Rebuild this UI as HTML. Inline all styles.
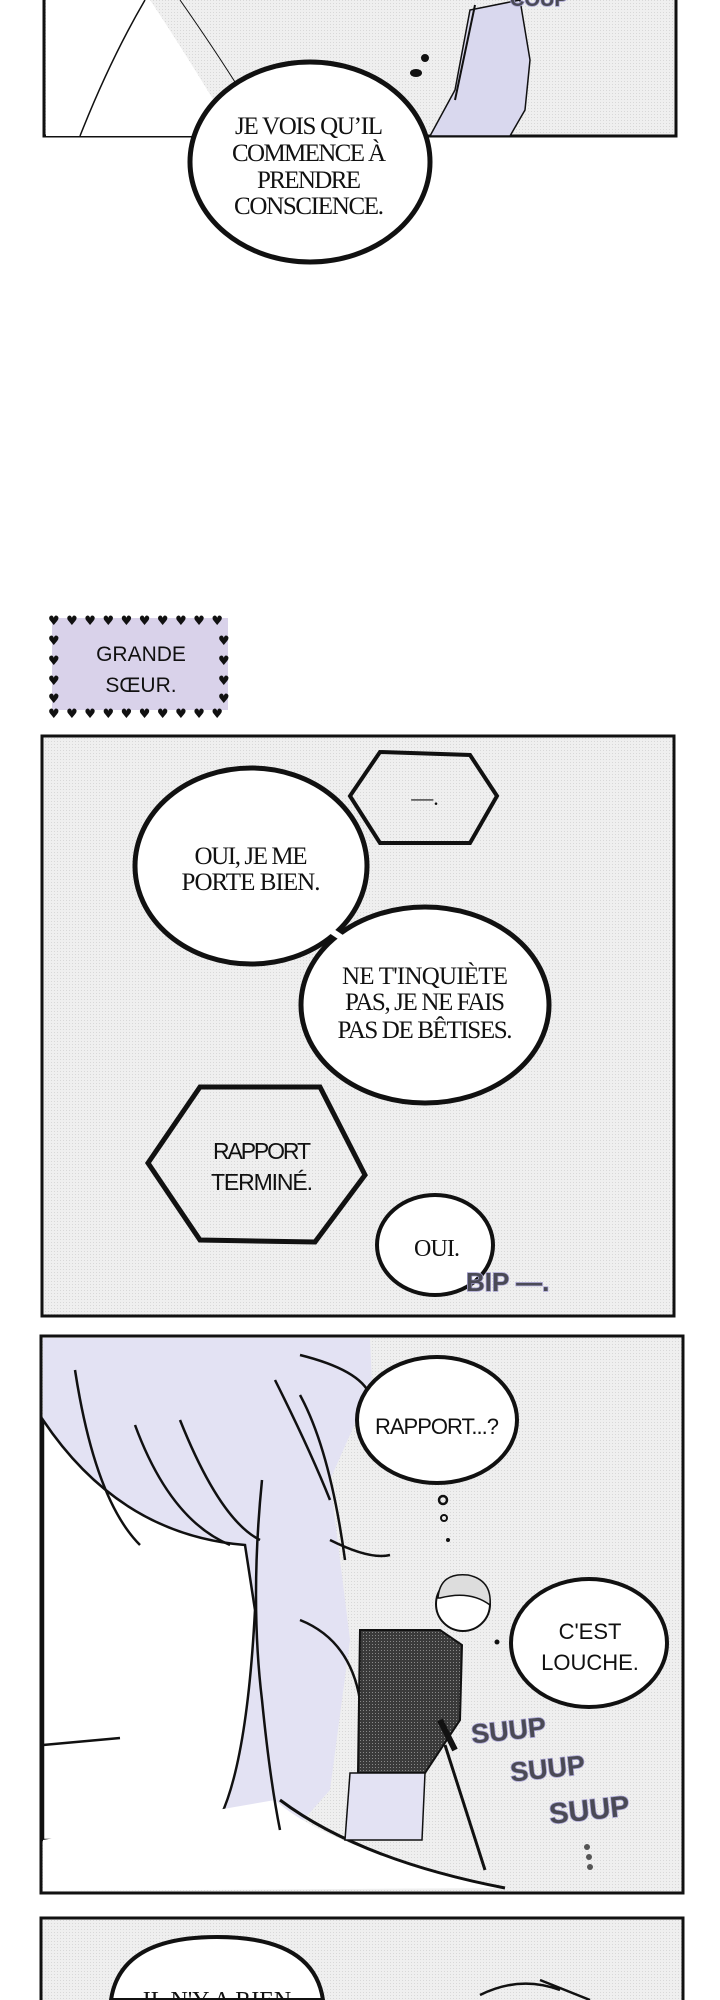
<!DOCTYPE html>
<html><head><meta charset="utf-8"><style>
html,body{margin:0;padding:0;background:#fff;width:720px;height:2000px;overflow:hidden;}
svg{display:block;overflow:hidden;}
.s{font-family:"Liberation Serif",serif;fill:#111;}
.n{font-family:"Liberation Sans",sans-serif;fill:#111;}
.sfx{font-family:"Liberation Sans",sans-serif;font-weight:bold;fill:#4a4a55;stroke:#a9a4d4;stroke-width:1.5;paint-order:stroke;}
</style></head><body>
<svg width="720" height="2000" viewBox="0 0 720 2000" xmlns="http://www.w3.org/2000/svg">
<defs>
<pattern id="dots" width="3" height="3" patternUnits="userSpaceOnUse"><rect width="3" height="3" fill="#efefef"/><rect width="1" height="1" fill="#d8d8d8"/></pattern>
<pattern id="dark" width="3" height="3" patternUnits="userSpaceOnUse"><rect width="3" height="3" fill="#3a3a3a"/><rect width="1" height="1" fill="#888"/></pattern>
<clipPath id="page"><rect x="0" y="0" width="720" height="2000"/></clipPath>
</defs>
<g clip-path="url(#page)">
<!-- Panel 1 -->
<rect x="44" y="-5" width="632" height="141" fill="url(#dots)" stroke="#111" stroke-width="3"/>
<path d="M46,0 L150,0 Q190,60 235,136 L46,136 Z" fill="#fff"/>
<path d="M80,136 Q110,60 145,0" fill="none" stroke="#111" stroke-width="1.5"/>
<path d="M180,0 Q215,50 240,90" fill="none" stroke="#111" stroke-width="1"/>
<path d="M430,136 L455,90 L470,10 L520,0 L530,60 L525,110 L510,136 Z" fill="#d9d8ee" stroke="#111" stroke-width="1.5"/>
<path d="M475,5 L455,100" stroke="#111" stroke-width="2"/>
<circle cx="425" cy="58" r="4" fill="#111"/><ellipse cx="416" cy="73" rx="6" ry="4" fill="#111"/>
<text x="510" y="6" class="sfx" font-size="20">COUP</text>
<ellipse cx="310" cy="162" rx="120" ry="100" fill="#fff" stroke="#111" stroke-width="5"/>
<text class="s" font-size="25" text-anchor="middle"><tspan x="309" y="134" textLength="148">JE VOIS QU’IL</tspan><tspan x="309" y="161" textLength="154">COMMENCE À</tspan><tspan x="309" y="188" textLength="104">PRENDRE</tspan><tspan x="309" y="214" textLength="150">CONSCIENCE.</tspan></text>

<!-- Grande soeur -->
<rect x="52" y="618" width="176" height="92" fill="#d9d2ea"/>
<g font-family="DejaVu Sans,sans-serif" font-size="13" fill="#111">
<text x="48" y="625" letter-spacing="6.5">♥♥♥♥♥♥♥♥♥♥</text>
<text x="48" y="718" letter-spacing="6.5">♥♥♥♥♥♥♥♥♥♥</text>
<text x="48" y="645">♥</text><text x="48" y="665">♥</text><text x="48" y="685">♥</text><text x="48" y="703">♥</text>
<text x="218" y="645">♥</text><text x="218" y="665">♥</text><text x="218" y="685">♥</text><text x="218" y="703">♥</text>
</g>
<text class="n" font-size="21" text-anchor="middle"><tspan x="141" y="661">GRANDE</tspan><tspan x="141" y="692">SŒUR.</tspan></text>

<!-- Panel 2 -->
<rect x="42" y="736" width="632" height="580" fill="url(#dots)" stroke="#111" stroke-width="3"/>
<polygon points="350,796 380,752 470,755 497,796 470,843 380,843" fill="url(#dots)" stroke="#111" stroke-width="4"/>
<text x="425" y="805" class="s" font-size="22" text-anchor="middle">—.</text>
<ellipse cx="251" cy="866" rx="116" ry="98" fill="#fff" stroke="#111" stroke-width="5"/>
<ellipse cx="425" cy="1005" rx="124" ry="98" fill="#fff" stroke="#111" stroke-width="5"/>
<path d="M330,930 L345,940" stroke="#fff" stroke-width="6"/>
<text class="s" font-size="25" text-anchor="middle"><tspan x="251" y="864" textLength="113">OUI, JE ME</tspan><tspan x="251" y="890" textLength="139">PORTE BIEN.</tspan></text>
<text class="s" font-size="25" text-anchor="middle"><tspan x="425" y="984" textLength="166">NE T'INQUIÈTE</tspan><tspan x="425" y="1010" textLength="160">PAS, JE NE FAIS</tspan><tspan x="425" y="1038" textLength="175">PAS DE BÊTISES.</tspan></text>
<polygon points="148,1163 200,1087 320,1087 365,1175 315,1242 200,1240" fill="url(#dots)" stroke="#111" stroke-width="5"/>
<text class="n" font-size="23" text-anchor="middle"><tspan x="262" y="1159" textLength="98">RAPPORT</tspan><tspan x="262" y="1190" textLength="102">TERMINÉ.</tspan></text>
<ellipse cx="435" cy="1245" rx="58" ry="50" fill="#fff" stroke="#111" stroke-width="4"/>
<text x="437" y="1256" class="s" font-size="24" text-anchor="middle" textLength="46">OUI.</text>
<text x="466" y="1291" class="sfx" font-size="26">BIP —.</text>

<!-- Panel 3 -->
<rect x="41" y="1336" width="642" height="557" fill="url(#dots)" stroke="#111" stroke-width="3"/>
<path d="M43,1338 L370,1338 L372,1385 L330,1480 L350,1640 L330,1790 L290,1835 L43,1835 Z" fill="#e3e2f3"/>
<path d="M43,1420 Q120,1535 245,1545 L255,1610 Q245,1800 205,1840 L43,1840 Z" fill="#fff" stroke="#111" stroke-width="2.5"/>
<path d="M43,1840 L275,1800 Q330,1850 505,1888 L43,1891 Z" fill="#fff"/>
<path d="M280,1800 Q360,1860 505,1888" fill="none" stroke="#111" stroke-width="3"/>
<g fill="none" stroke="#111" stroke-width="2.5">
<path d="M75,1370 Q95,1500 140,1545"/><path d="M135,1425 Q170,1520 230,1545"/><path d="M180,1420 Q220,1520 260,1540"/>
<path d="M275,1380 Q310,1450 330,1500"/><path d="M262,1480 Q250,1600 262,1700 Q270,1780 280,1830"/>
<path d="M300,1395 Q330,1450 345,1560"/><path d="M330,1540 Q370,1560 390,1555"/><path d="M300,1620 Q350,1640 360,1700"/>
<path d="M300,1355 Q360,1370 370,1395"/><path d="M43,1745 L120,1738"/>
</g>
<!-- man -->
<path d="M360,1630 L440,1630 L462,1645 L460,1720 L425,1773 L358,1773 Z" fill="url(#dark)" stroke="#111" stroke-width="2"/>
<path d="M350,1773 L425,1773 L422,1840 L345,1840 Z" fill="#e3e2f3" stroke="#111" stroke-width="1.5"/>
<circle cx="463" cy="1604" r="27" fill="#fff" stroke="#111" stroke-width="2"/>
<path d="M438,1598 Q440,1572 468,1575 Q492,1580 490,1605 Q470,1590 440,1598 Z" fill="#ddd" stroke="#111" stroke-width="1.5"/>
<path d="M445,1745 L485,1870" stroke="#111" stroke-width="3"/>
<path d="M440,1720 L455,1750" stroke="#111" stroke-width="6"/>
<ellipse cx="437" cy="1420" rx="80" ry="63" fill="#fff" stroke="#111" stroke-width="4"/>
<text x="437" y="1434" class="n" font-size="22" text-anchor="middle" textLength="124">RAPPORT...?</text>
<circle cx="443" cy="1500" r="4" fill="none" stroke="#111" stroke-width="2.5"/><circle cx="444" cy="1518" r="3" fill="none" stroke="#111" stroke-width="2"/><circle cx="448" cy="1540" r="2" fill="#111"/>
<ellipse cx="589" cy="1643" rx="78" ry="64" fill="#fff" stroke="#111" stroke-width="4"/>
<circle cx="497" cy="1642" r="2.5" fill="#111"/>
<text class="n" font-size="22" text-anchor="middle"><tspan x="590" y="1639">C'EST</tspan><tspan x="590" y="1670">LOUCHE.</tspan></text>
<text x="471" y="1740" class="sfx" font-size="27" transform="rotate(-6 505 1730)">SUUP</text>
<text x="510" y="1778" class="sfx" font-size="27" transform="rotate(-6 545 1768)">SUUP</text>
<text x="549" y="1820" class="sfx" font-size="29" transform="rotate(-6 586 1810)">SUUP</text>
<circle cx="587" cy="1847" r="3" fill="#555"/><circle cx="589" cy="1857" r="3" fill="#555"/><circle cx="590" cy="1867" r="3" fill="#555"/>

<!-- Panel 4 -->
<rect x="41" y="1918" width="642" height="100" fill="url(#dots)" stroke="#111" stroke-width="3"/>
<path d="M111,2000 Q120,1937 217,1937 Q314,1937 323,2000 Z" fill="#fff" stroke="#111" stroke-width="4"/>
<path d="M480,1995 Q520,1975 560,1990 M540,1980 L590,2000" fill="none" stroke="#111" stroke-width="2.5"/>
<text x="217" y="2008" class="s" font-size="24" text-anchor="middle">IL N'Y A RIEN</text>
</g>
</svg>
</body></html>
